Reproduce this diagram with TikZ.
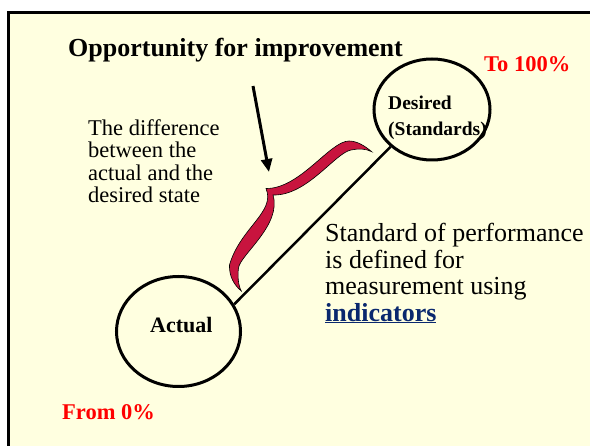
\documentclass[tikz,border=0pt]{standalone}
\usepackage{fontspec}
\setmainfont{Liberation Serif}
\usetikzlibrary{shapes.geometric,arrows.meta}
\definecolor{bgyellow}{RGB}{255,255,224}
\definecolor{bracered}{RGB}{200,20,62}
\definecolor{linkblue}{RGB}{10,40,110}
\definecolor{pctred}{RGB}{255,0,0}
\tikzset{
  state/.style={ellipse, draw, line width=3pt, inner sep=0pt},
  txt/.style={inner sep=0pt, text=black},
  pct/.style={inner sep=0pt, text=pctred, font=\fontsize{22.5}{24}\selectfont\bfseries},
}
\begin{document}
\begin{tikzpicture}[x=1pt,y=-1pt]
\clip (0,0) rectangle (590,446);
\fill[white] (0,0) rectangle (590,446);
\fill[bgyellow] (8.5,12.5) rectangle (620,470);
\draw[line width=2.5pt] (8.5,470) -- (8.5,12.5) -- (620,12.5);

% title
\node[txt, anchor=base west, font=\fontsize{26}{28}\selectfont\bfseries] (title) at (68,57) {Opportunity for improvement};
\node[pct, anchor=base west] (to) at (484,72) {To 100\%};
\node[pct, anchor=base west] (from) at (62,420) {From 0\%};

% states
\node[state, minimum width=124pt, minimum height=110pt] (act) at (178.5,331.5) {};
\node[state, minimum width=116pt, minimum height=101pt] (des) at (432,109.5) {};
\node[txt, anchor=base west, font=\fontsize{22}{24}\selectfont\bfseries] (actt) at (150,333) {Actual};
\node[txt, anchor=west, align=left, font=\fontsize{19.5}{26}\selectfont\bfseries] (dest) at (388,117.8) {Desired\\(Standards)};

\draw[line width=2.5pt] (act.26) -- (des.222);

% explanatory texts
\node[txt, anchor=north west, align=left, font=\fontsize{22.5}{22.3}\selectfont] (diff) at (88,119.5) {The difference\\between the\\actual and the\\desired state};
\node[txt, anchor=north west, align=left, font=\fontsize{26}{26.5}\selectfont] (std) at (325,223) {Standard of performance\\is defined for\\measurement using\\{\color{linkblue}\bfseries\underline{indicators}}};

% arrow
\coordinate (arrS) at (253,86);
\coordinate (arrT) at (269,172);
\draw[line width=3pt, -{Triangle[length=13pt,width=11pt]}] (arrS) -- (arrT);

% brace
\filldraw[fill=bracered, draw=black, line width=0.6pt]
  (371.7,151.7) .. controls (365,146) and (357,141) .. (349,141)
  .. controls (330,141) and (300,189) .. (266,188.5)
  .. controls (276,212) and (240,228) .. (229.5,265)
  .. controls (229,276) and (234,285) .. (241.3,291)
  .. controls (238,285) and (237.5,275) .. (238.5,268)
  .. controls (240,255) and (282,225) .. (273,195)
  .. controls (307,196) and (335,153) .. (351,150)
  .. controls (358,148.5) and (366,148.5) .. (371.7,151.7)
  -- cycle;
\end{tikzpicture}
\end{document}
